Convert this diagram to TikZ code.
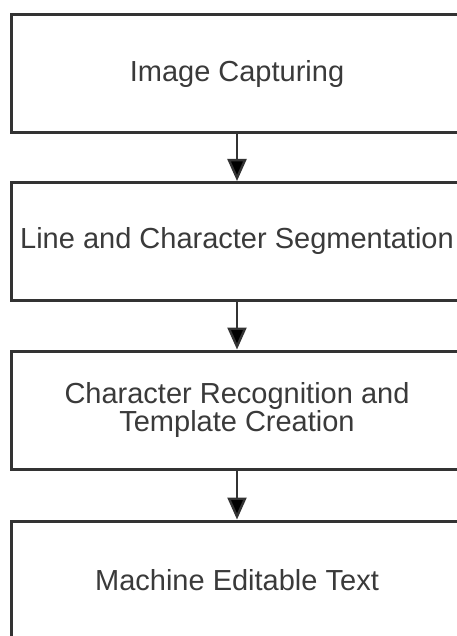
\documentclass[tikz,border=0pt]{standalone}
\usepackage{fontspec}
\setmainfont{Liberation Sans}
\usetikzlibrary{arrows.meta,positioning}
\definecolor{boxline}{HTML}{333333}
\definecolor{boxtext}{HTML}{3A3A3A}
\tikzset{
  stage/.style={draw=boxline,line width=1.5pt,rectangle,minimum width=226pt,minimum height=59pt,
    inner sep=0pt,align=center,text=boxtext,font=\fontsize{14.5}{13.8}\selectfont},
  arr/.style={draw=boxline,line width=1.2pt,-{Triangle[length=11pt,width=9.5pt]}}
}
\begin{document}
\begin{tikzpicture}[x=0.5pt,y=-0.5pt]
  \useasboundingbox (0,0) rectangle (456,636);
  \node[stage] (capture) at (237,74) {Image Capturing};
  \node[stage] (segment) at (237,241.5) {Line and Character Segmentation};
  \node[stage] (recog) at (237,410) {Character Recognition and\\Template Creation};
  \node[stage] (output) at (237,580) {Machine Editable Text};
  \path[arr]
    (capture) edge (segment)
    (segment) edge (recog)
    (recog) edge (output);
\end{tikzpicture}
\end{document}
